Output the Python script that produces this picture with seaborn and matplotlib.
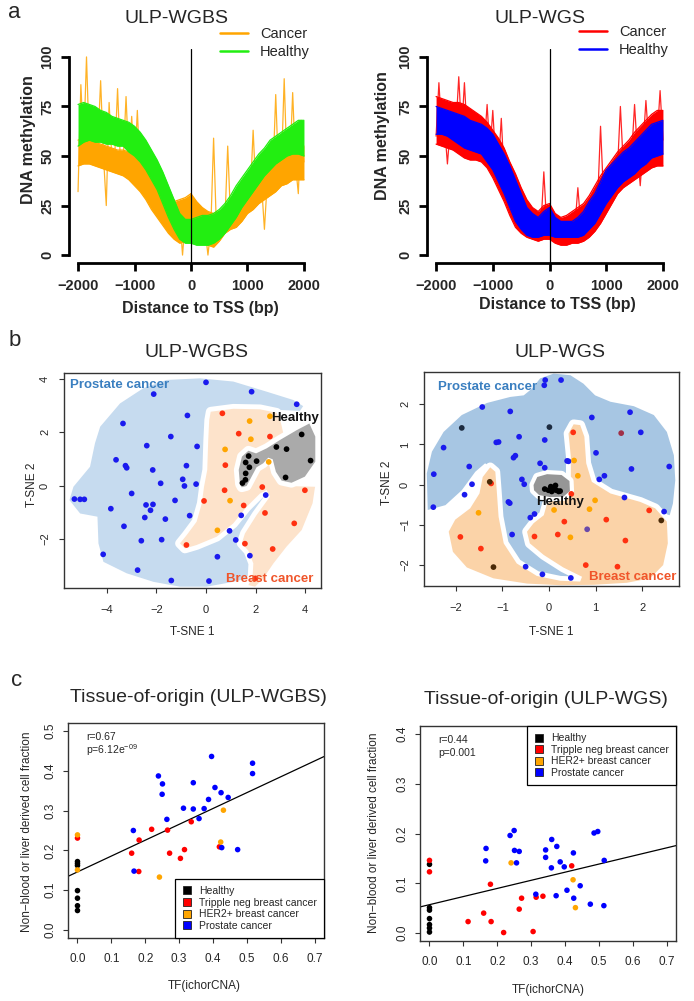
import numpy as np
import pandas as pd
import matplotlib
matplotlib.use("Agg")
import matplotlib.pyplot as plt
from matplotlib.lines import Line2D
import seaborn as sns

sns.set_style("ticks")
plt.rcParams['font.family'] = ['Liberation Sans', 'DejaVu Sans']
plt.rcParams['mathtext.fontset'] = 'custom'
plt.rcParams['mathtext.rm'] = 'Liberation Sans'
plt.rcParams['mathtext.it'] = 'Liberation Sans:italic'
plt.rcParams['mathtext.bf'] = 'Liberation Sans:bold'
plt.rcParams['axes.unicode_minus'] = True

# ------------------------------------------------------------------ data (a)
tss = list(range(-2000, 2001, 100))
tss_fine = list(range(-2000, 2001, 50))

wgbs_cancer_lo = [45,46,46,45,44,43,42,41,40,38,35,32,28,23,19,15,11,8,6,7,8,7,6,5,4,7,11,13,14,17,21,23,26,28,30,32,35,36,38,38,38]
wgbs_cancer_hi = [58,59,58,57,56,55,54,53,53,52,50,48,45,41,36,31,26,27,28,29,31,27,24,22,21,22,23,26,30,33,35,38,40,43,46,48,50,51,53,54,55]
wgbs_cancer_spk = [32,86,55,100,54,58,52,55,88,50,25,77,48,50,84,47,48,80,46,70,43,73,40,39,37,55,33,30,28,25,
                   23,21,19,18,28,17,20,0,18,20,31,17,15,16,14,13,0,13,59,14,15,16,17,55,19,21,22,24,25,27,
                   28,30,63,32,33,35,13,37,38,40,81,41,43,89,44,45,82,46,31,68,47]
wgbs_healthy_lo = [55,57,58,57,57,56,56,55,55,52,50,47,43,38,33,26,19,13,8,6,6,5,5,5,6,8,11,15,19,24,28,32,36,40,43,46,48,50,51,51,50]
wgbs_healthy_hi = [76,77,76,75,73,72,70,69,68,67,65,62,58,53,48,42,35,28,21,18,18,19,20,20,21,23,26,30,35,39,43,47,51,54,58,60,62,64,66,68,68]

wgs_cancer_lo = [56,55,54,53,51,49,48,48,47,44,39,33,27,20,14,11,9,8,7,8,8,6,5,5,6,6,7,9,12,16,21,26,31,34,36,38,40,42,44,45,45]
wgs_cancer_hi = [80,79,78,77,77,76,74,72,70,67,63,59,54,47,41,34,28,24,22,25,26,21,19,20,22,24,26,30,35,40,44,48,52,55,58,62,65,68,71,73,73]
wgs_cancer_spk = [60,87,62,65,46,64,66,64,90,62,87,60,60,58,59,57,58,55,76,52,73,48,45,69,40,36,33,30,27,24,
                  21,19,17,16,15,14,14,15,42,16,17,15,14,13,12,13,12,13,14,15,34,16,17,18,20,22,25,28,65,32,
                  35,38,40,42,44,75,46,47,49,51,76,52,35,55,78,57,58,59,60,83,58]
wgs_healthy_lo = [61,61,60,58,56,54,53,52,51,47,43,37,31,24,17,13,10,9,9,10,10,9,9,9,9,9,10,13,16,21,26,30,34,37,39,41,44,46,49,50,51]
wgs_healthy_hi = [75,74,73,72,71,70,68,67,66,64,61,56,51,45,38,31,24,21,19,22,24,19,17,17,17,19,22,27,31,37,43,46,49,52,54,57,60,63,66,67,68]

# ------------------------------------------------------------------ data (b)
# ULP-WGBS t-SNE
b1_prostate_x = [0.00,1.84,-2.11,3.66,-0.75,-3.35,-1.42,-2.39,-0.36,-3.63,-3.25,-3.20,-0.79,-2.15,-0.94,-1.83,-0.87,-0.40,-3.00,-5.31,
                 -5.08,-4.91,-1.25,-2.42,-2.14,-3.84,-2.24,-2.47,-0.66,-1.64,2.41,1.42,-3.31,0.95,-2.61,-1.79,1.20,-4.15,0.46,1.77,
                 -2.76,-1.40,0.12]
b1_prostate_y = [3.87,3.52,3.43,3.05,2.63,2.33,1.84,1.50,1.47,0.97,0.75,0.67,0.75,0.59,0.24,0.09,-0.01,0.06,-0.29,-0.50,
                 -0.51,-0.51,-0.55,-0.72,-0.70,-0.86,-0.92,-1.19,-1.12,-1.25,-0.35,-1.11,-1.52,-1.69,-2.06,-2.02,-2.03,-2.57,-2.66,-2.62,
                 -3.16,-3.55,-3.57]
b1_her2_x = [1.76,2.58,0.77,1.81,2.53,0.97,0.46]
b1_her2_y = [2.42,2.60,1.36,1.74,0.89,-0.56,-1.67]
b1_tnbc_x = [0.66,1.32,2.58,0.78,0.75,-0.08,1.52,2.27,3.99,2.38,3.56,-0.79,1.57,2.69,1.99]
b1_tnbc_y = [2.71,1.95,1.84,0.77,-0.17,-0.57,-0.74,-0.05,-0.17,-1.02,-1.41,-2.22,-2.17,-2.37,-3.47]
b1_healthy_x = [1.72,1.60,1.75,1.60,1.59,1.47,2.04,2.84,3.25,3.86,4.22,3.21]
b1_healthy_y = [1.11,0.87,0.69,0.46,0.22,0.10,0.92,1.45,1.37,1.92,0.94,0.31]

b1_blue_x = [-4.27,-3.47,-2.53,-1.59,-0.24,1.10,2.45,3.52,3.92,3.79,2.45,1.10,0.56,0.83,1.91,2.45,2.65,2.45,2.04,1.84,
             2.04,1.91,1.10,0.03,-1.05,-2.12,-3.20,-4.14,-4.34,-4.38,-5.08,-5.51,-5.35,-4.68,-4.48]
b1_blue_y = [2.21,3.08,3.65,3.96,4.02,3.90,3.52,3.21,2.98,2.80,2.86,2.98,2.58,0.59,-0.04,-0.10,-0.29,-0.66,-1.41,-2.16,
             -2.91,-3.41,-3.60,-3.78,-3.78,-3.60,-3.28,-2.85,-2.16,-1.16,-1.04,-0.54,-0.04,0.71,1.59]
b1_orange_x = [0.19,1.10,2.18,2.85,3.01,3.12,3.79,4.26,4.26,3.79,3.39,3.19,4.40,4.30,3.86,3.25,2.72,2.31,1.98,1.71,
               1.88,1.91,1.71,1.44,1.57,2.04,2.58,2.45,2.18,1.64,1.10,0.43,-0.38,-0.85,-1.05,-0.78,-0.38,-0.17,-0.08,0.05,
               0.09,0.13]
b1_orange_y = [2.77,2.88,2.86,2.73,2.40,1.96,1.84,1.71,0.96,0.59,0.19,-0.01,-0.04,-0.66,-1.66,-2.28,-2.91,-3.47,-3.78,-3.72,
               -3.41,-2.91,-2.43,-2.16,-1.79,-1.10,-0.41,-0.16,-0.29,-0.79,-1.41,-1.91,-2.22,-2.35,-2.16,-1.85,-1.35,-0.66,-0.04,0.59,
               1.71,2.46]
b1_gray_x = [1.37,1.32,1.45,1.71,2.02,2.45,2.98,3.66,4.17,4.41,4.41,3.99,3.45,3.05,2.82,2.69,2.51,2.31,2.04,1.80,1.64,1.44]
b1_gray_y = [0.06,0.59,1.09,1.31,1.21,1.40,1.71,2.08,2.33,1.84,0.90,0.34,0.11,0.19,0.52,0.99,1.05,0.84,0.69,0.27,-0.01,-0.06]

# ULP-WGS t-SNE
b2_prostate_x = [-0.08,-0.10,0.26,-1.43,-0.83,0.92,1.74,1.97,-2.26,-1.13,-1.08,-0.64,-0.09,1.01,0.39,0.42,-0.19,-0.09,-0.72,-0.76,
                 -1.71,-2.47,1.77,2.58,1.19,1.08,-0.58,-0.53,-1.65,-1.81,-0.87,-0.84,1.62,-2.48,-0.31,-0.40,-0.79,2.47,-0.50,-0.14,
                 0.47]
b2_prostate_y = [2.60,2.47,2.60,1.93,1.82,1.67,1.80,1.30,0.92,1.05,1.06,1.19,1.11,0.79,0.59,0.58,0.53,0.42,0.72,0.67,
                 0.45,0.26,0.39,0.45,0.22,0.13,0.13,0.01,0.01,-0.25,-0.43,-0.46,-0.32,-0.56,-0.73,-0.82,-1.24,-0.67,-2.04,-2.23,
                 -2.32]
b2_healthy_x = [-0.09,0.04,0.10,0.14,0.16,0.21,0.06,0.24,-0.01,0.11]
b2_healthy_y = [-0.11,-0.05,-0.08,-0.02,-0.14,-0.17,-0.17,-0.16,-0.14,-0.12]
b2_her2_x = [0.54,0.62,-1.51,0.99,0.11,0.87,0.46]
b2_her2_y = [0.60,0.22,-0.70,-0.39,-0.63,-0.61,-1.31]
b2_tnbc_x = [0.52,-1.24,0.48,2.15,0.33,1.23,-0.31,0.19,-1.90,-1.46,1.64,0.79,1.47]
b2_tnbc_y = [1.30,0.03,-0.23,-0.64,-0.92,-0.87,-1.29,-1.24,-1.30,-1.59,-1.39,-2.00,-2.04]
b2_mixed_x = [-1.87,0.01,-1.27,-1.19,2.41,0.82,1.55]
b2_mixed_y = [1.41,1.43,0.07,-2.05,-0.89,-1.11,1.28]
b2_mixed_g = ['Healthy/Prostate','Healthy/Prostate','Healthy/Breast','Healthy/Breast','Healthy/Breast',
              'Breast/Prostate','Prostate/Breast']

b2_blue_x = [-2.60,-2.62,-2.51,-2.26,-1.87,-1.33,-0.83,-0.54,-0.36,-0.19,0.10,0.46,0.74,0.99,1.32,1.82,2.25,2.53,2.68,2.71,
             2.66,2.59,2.32,1.39,0.67,0.24,0.03,0.53,0.73,0.31,-0.33,-0.83,-1.06,-1.12,-1.20,-1.37,-1.58,-1.87,-2.22]
b2_blue_y = [-0.63,0.28,0.82,1.31,1.73,2.03,2.18,2.22,2.39,2.64,2.76,2.72,2.51,2.22,2.06,1.95,1.73,1.31,0.73,0.11,
             -0.47,-0.76,-0.67,-0.43,-0.30,-0.80,-1.63,-2.29,-2.39,-2.47,-2.33,-1.96,-1.21,-0.14,0.40,0.53,0.32,-0.14,-0.51]
b2_orange_x = [-1.26,-1.15,-1.12,-1.08,-0.97,-0.69,-0.26,0.24,0.67,0.71,0.31,-0.11,-0.41,-0.47,-0.33,-0.11,-0.04,0.24,0.47,0.47,
               0.42,0.53,0.67,0.76,0.80,0.92,1.32,1.96,2.28,2.53,2.55,2.45,2.17,1.67,0.96,0.24,-0.47,-1.19,-1.76,-2.06,
               -2.15,-2.01,-1.69,-1.49,-1.42]
b2_orange_y = [0.43,0.32,-0.14,-0.80,-1.46,-1.96,-2.27,-2.39,-2.41,-2.29,-2.06,-1.75,-1.46,-1.17,-0.96,-0.76,-0.47,-0.30,0.19,0.69,
               1.27,1.50,1.48,1.19,0.53,0.07,-0.22,-0.43,-0.59,-0.92,-1.46,-2.00,-2.33,-2.44,-2.49,-2.50,-2.46,-2.33,-2.06,-1.67,
               -1.17,-0.87,-0.59,-0.22,0.19]
b2_gray_x = [-0.33,-0.25,-0.04,0.27,0.44,0.45,0.31,0.03,-0.21,-0.32]
b2_gray_y = [-0.01,0.19,0.26,0.24,0.09,-0.16,-0.30,-0.31,-0.26,-0.14]

# ------------------------------------------------------------------ data (c)
c1_healthy_tf = [0.0,0.0,0.0,0.0,0.0,0.0,0.0]
c1_healthy_fr = [0.172,0.167,0.162,0.099,0.080,0.061,0.049]
c1_tnbc_tf = [0.0,0.160,0.182,0.181,0.219,0.266,0.272,0.304,0.316,0.336,0.419]
c1_tnbc_fr = [0.231,0.193,0.226,0.147,0.253,0.251,0.193,0.180,0.202,0.272,0.209]
c1_her2_tf = [0.0,0.0,0.242,0.431,0.423]
c1_her2_fr = [0.239,0.151,0.133,0.301,0.221]
c1_prostate_tf = [0.165,0.167,0.239,0.251,0.250,0.264,0.313,0.342,0.342,0.359,0.374,0.387,0.396,0.406,0.424,0.445,0.426,0.473,0.517,0.517]
c1_prostate_fr = [0.250,0.148,0.387,0.367,0.341,0.278,0.306,0.370,0.304,0.280,0.305,0.328,0.436,0.358,0.345,0.333,0.207,0.202,0.419,0.393]
c1_fit = (0.146, 0.398)   # intercept, slope
c1_stats = ["r=0.67", r"p=6.12e$^{-09}$"]

c2_healthy_tf = [0.0,0.0,0.0,0.0,0.0,0.0,0.0]
c2_healthy_fr = [0.138,0.051,0.046,0.029,0.017,0.010,0.002]
c2_tnbc_tf = [0.0,0.0,0.114,0.160,0.180,0.182,0.219,0.265,0.272,0.306,0.315,0.335,0.420]
c2_tnbc_fr = [0.146,0.123,0.023,0.040,0.098,0.023,0.001,0.048,0.070,0.003,0.072,0.074,0.135]
c2_her2_tf = [0.241,0.424,0.431]
c2_her2_fr = [0.141,0.107,0.051]
c2_prostate_tf = [0.167,0.166,0.238,0.250,0.251,0.257,0.265,0.343,0.343,0.361,0.360,0.376,0.386,0.398,0.425,
                  0.314,0.374,0.406,0.426,0.445,0.475,0.486,0.497,0.516,0.515]
c2_prostate_fr = [0.170,0.145,0.196,0.206,0.166,0.141,0.164,0.167,0.152,0.188,0.131,0.174,0.143,0.133,0.161,
                  0.078,0.075,0.086,0.070,0.095,0.058,0.201,0.204,0.146,0.055]
c2_fit = (0.057, 0.163)
c2_stats = ["r=0.44", "p=0.001"]

legend_labels = ['Healthy', 'Tripple neg breast cancer', 'HER2+ breast cancer', 'Prostate cancer']

# ------------------------------------------------------------------ figure
W, H = 694, 1001
fig = plt.figure(figsize=(W / 100, H / 100), dpi=100)


def rect(x0, y0, x1, y1):
    return [x0 / W, 1 - y1 / H, (x1 - x0) / W, (y1 - y0) / H]


def ftext(x, y, s, **kw):
    kw.setdefault('ha', 'center')
    kw.setdefault('va', 'center')
    fig.text(x / W, 1 - y / H, s, **kw)


# ---------------- panel a
def methyl(ax, c_lo, c_hi, c_spk, h_lo, h_hi, c_col, h_col):
    ax.fill_between(tss, c_lo, c_hi, color=c_col, lw=0, zorder=1)
    sns.lineplot(x=tss, y=c_lo, ax=ax, color=c_col, lw=0.9, zorder=1)
    sns.lineplot(x=tss, y=c_hi, ax=ax, color=c_col, lw=0.9, zorder=1)
    sns.lineplot(x=tss_fine, y=c_spk, ax=ax, color=c_col, lw=0.9, alpha=0.85, zorder=2)
    ax.fill_between(tss, h_lo, h_hi, color=h_col, lw=0, zorder=3)
    sns.lineplot(x=tss, y=h_lo, ax=ax, color=h_col, lw=0.9, zorder=3)
    sns.lineplot(x=tss, y=h_hi, ax=ax, color=h_col, lw=0.9, zorder=3)
    ax.axvline(0, color='black', lw=0.9, zorder=5)
    ax.set_xlim(-2160, 2160)
    ax.set_ylim(-4, 104)
    sns.despine(ax=ax)
    ax.spines['left'].set_bounds(0, 100)
    ax.spines['bottom'].set_bounds(-2000, 2000)
    for s in ('left', 'bottom'):
        ax.spines[s].set_linewidth(2.0)
        ax.spines[s].set_color('black')
    ax.set_xticks([-2000, -1000, 0, 1000, 2000])
    ax.set_yticks([0, 25, 50, 75, 100])
    ax.tick_params(length=5.5, width=2.0, labelsize=10.5, pad=6, color='black')
    ax.tick_params(axis='y', labelrotation=90, pad=5)
    for lab in ax.get_xticklabels() + ax.get_yticklabels():
        lab.set_fontweight('bold')
    for lab in ax.get_yticklabels():
        lab.set_verticalalignment('center')
    ax.set_xlabel('')
    ax.set_ylabel('')
    ax.set_facecolor('none')


axA1 = fig.add_axes(rect(69, 49, 313, 263))
methyl(axA1, wgbs_cancer_lo, wgbs_cancer_hi, wgbs_cancer_spk, wgbs_healthy_lo, wgbs_healthy_hi,
       '#ffa500', '#22ee11')
axA2 = fig.add_axes(rect(427, 49, 672, 263))
methyl(axA2, wgs_cancer_lo, wgs_cancer_hi, wgs_cancer_spk, wgs_healthy_lo, wgs_healthy_hi,
       '#ff0000', '#0000ff')

for (lx, ly, cc, hc) in [(220, 43, '#ffa500', '#22ee11'), (579, 41, '#ff0000', '#0000ff')]:
    hnd = [Line2D([], [], color=cc, lw=1.8), Line2D([], [], color=hc, lw=1.8)]
    fig.legend(hnd, ['Cancer', 'Healthy'], loc='center left', bbox_to_anchor=(lx / W, 1 - ly / H),
               frameon=False, fontsize=10.5, handlelength=1.95, handletextpad=0.8,
               labelspacing=0.25, borderpad=0, borderaxespad=0)

ftext(176, 18, 'ULP-WGBS', fontsize=14)
ftext(540, 18, 'ULP-WGS', fontsize=14)
ftext(28, 140, 'DNA methylation', rotation=90, fontsize=11.5, fontweight='bold')
ftext(382, 136, 'DNA methylation', rotation=90, fontsize=11.5, fontweight='bold')
ftext(200, 308, 'Distance to TSS (bp)', fontsize=11.5, fontweight='bold')
ftext(557, 305, 'Distance to TSS (bp)', fontsize=11.5, fontweight='bold')
ftext(14, 12, 'a', fontsize=16)


# ---------------- panel b
def boxed(ax, fs=8, xpad=8.5, ypad=6.5):
    for s in ax.spines.values():
        s.set_visible(True)
        s.set_linewidth(1.0)
        s.set_color('#333333')
    ax.tick_params(axis='both', direction='out', length=3.6, width=0.8, color='#333333',
                   labelsize=fs, left=True, bottom=True)
    ax.tick_params(axis='x', pad=xpad)
    ax.tick_params(axis='y', pad=ypad, labelrotation=90)
    for lab in ax.get_yticklabels():
        lab.set_verticalalignment('center')
    ax.set_xlabel('')
    ax.set_ylabel('')


def region(ax, xs, ys, fc, z, halo):
    if halo:
        ax.fill(xs, ys, facecolor=fc, edgecolor='white', lw=halo, zorder=z, joinstyle='round')
    ax.fill(xs, ys, facecolor=fc, edgecolor='none', zorder=z)


pt_pal = {'Prostate': '#1a1aee', 'HER2': '#ffa500', 'TNBC': '#ff3010', 'Healthy': '#000000',
          'Healthy/Prostate': '#1c2b40', 'Healthy/Breast': '#4a2a08',
          'Breast/Prostate': '#6a4aaa', 'Prostate/Breast': '#a03048'}


def pts_frame(groups):
    rows = []
    for name, xs, ys in groups:
        if isinstance(name, list):
            rows += [(x, y, g) for x, y, g in zip(xs, ys, name)]
        else:
            rows += [(x, y, name) for x, y in zip(xs, ys)]
    return pd.DataFrame(rows, columns=['x', 'y', 'g'])


axB1 = fig.add_axes(rect(64, 373, 321, 588))
region(axB1, b1_blue_x, b1_blue_y, '#c6dbef', 1, 0)
region(axB1, b1_orange_x, b1_orange_y, '#fde3cb', 2, 7)
region(axB1, b1_gray_x, b1_gray_y, '#aaaaaa', 3, 7)
df_b1 = pts_frame([('Prostate', b1_prostate_x, b1_prostate_y), ('HER2', b1_her2_x, b1_her2_y),
                   ('TNBC', b1_tnbc_x, b1_tnbc_y), ('Healthy', b1_healthy_x, b1_healthy_y)])
sns.scatterplot(data=df_b1, x='x', y='y', hue='g', palette=pt_pal, s=17, linewidth=0,
                legend=False, ax=axB1, zorder=4)
axB1.text(-5.48, 3.77, 'Prostate cancer', color='#3a7fc0', fontsize=9.5, fontweight='bold', va='center', zorder=5)
axB1.text(2.61, 2.52, 'Healthy', color='#111111', fontsize=9.5, fontweight='bold', va='center', zorder=5)
axB1.text(0.81, -3.50, 'Breast cancer', color='#f0552a', fontsize=9.5, fontweight='bold', va='center', zorder=5)
axB1.set_xlim(-5.73, 4.64)
axB1.set_ylim(-3.83, 4.22)
axB1.set_xticks([-4, -2, 0, 2, 4])
axB1.set_yticks([-2, 0, 2, 4])
boxed(axB1)

axB2 = fig.add_axes(rect(424, 372, 679, 586))
region(axB2, b2_blue_x, b2_blue_y, '#a7c6e3', 1, 0)
region(axB2, b2_orange_x, b2_orange_y, '#fbd3a8', 2, 7)
region(axB2, b2_gray_x, b2_gray_y, '#969696', 3, 6)
df_b2 = pts_frame([('Prostate', b2_prostate_x, b2_prostate_y), ('HER2', b2_her2_x, b2_her2_y),
                   ('TNBC', b2_tnbc_x, b2_tnbc_y), ('Healthy', b2_healthy_x, b2_healthy_y),
                   (b2_mixed_g, b2_mixed_x, b2_mixed_y)])
sns.scatterplot(data=df_b2, x='x', y='y', hue='g', palette=pt_pal, s=17, linewidth=0,
                legend=False, ax=axB2, zorder=4)
axB2.text(-2.39, 2.43, 'Prostate cancer', color='#3a7fc0', fontsize=9.5, fontweight='bold', va='center', zorder=5)
axB2.text(-0.27, -0.43, 'Healthy', color='#111111', fontsize=9.5, fontweight='bold', va='center', zorder=5)
axB2.text(0.87, -2.29, 'Breast cancer', color='#f0552a', fontsize=9.5, fontweight='bold', va='center', zorder=5)
axB2.set_xlim(-2.68, 2.79)
axB2.set_ylim(-2.52, 2.80)
axB2.set_xticks([-2, -1, 0, 1, 2])
axB2.set_yticks([-2, -1, 0, 1, 2])
boxed(axB2)

ftext(197, 353, 'ULP-WGBS', fontsize=14)
ftext(560, 353, 'ULP-WGS', fontsize=14)
ftext(192, 632, 'T-SNE 1', fontsize=8.5)
ftext(551, 632, 'T-SNE 1', fontsize=8.5)
ftext(32, 485, 'T-SNE 2', fontsize=8.5, rotation=90)
ftext(387, 483, 'T-SNE 2', fontsize=8.5, rotation=90)
ftext(15, 341, 'b', fontsize=16)

# ---------------- panel c
c_pal = {'Healthy': '#000000', 'TNBC': '#ff0000', 'HER2': '#ffa500', 'Prostate': '#0000ff'}
leg_cols = ['#000000', '#ff0000', '#ffa500', '#0000ff']


def tissue(ax, groups, fit, stats, ymax, yticks, legloc):
    df = pts_frame(groups)
    sns.scatterplot(data=df, x='x', y='y', hue='g', palette=c_pal, s=16, linewidth=0,
                    legend=False, ax=ax, zorder=3)
    ax.axline((0, fit[0]), slope=fit[1], color='black', lw=0.9, zorder=2)
    ax.set_xlim(-0.028, 0.728)
    ax.set_ylim(-0.04 * ymax, ymax * 1.04)
    ax.set_xticks([0, 0.1, 0.2, 0.3, 0.4, 0.5, 0.6, 0.7])
    ax.set_xticklabels(['0.0', '0.1', '0.2', '0.3', '0.4', '0.5', '0.6', '0.7'])
    ax.set_yticks(yticks)
    ax.set_yticklabels(['%.1f' % v for v in yticks])
    boxed(ax, fs=8.5, xpad=7.5, ypad=5)
    ax.text(0.025, ymax * 0.97, stats[0], fontsize=7.5, va='center', zorder=5)
    ax.text(0.025, ymax * 0.905, stats[1], fontsize=7.5, va='center', zorder=5)
    hnd = [Line2D([], [], marker='s', ls='', mfc=c, mec='#222222', mew=0.6, ms=5.5) for c in leg_cols]
    leg = ax.legend(hnd, legend_labels, loc=legloc, fontsize=7.5, frameon=True, fancybox=False,
                    edgecolor='black', framealpha=1, borderaxespad=0, handlelength=0.8,
                    handletextpad=0.75, labelspacing=0.15, borderpad=0.7)
    leg.get_frame().set_linewidth(0.9)
    leg.set_zorder(6)


axC1 = fig.add_axes(rect(68, 723, 324, 938))
tissue(axC1, [('Healthy', c1_healthy_tf, c1_healthy_fr), ('TNBC', c1_tnbc_tf, c1_tnbc_fr),
              ('HER2', c1_her2_tf, c1_her2_fr), ('Prostate', c1_prostate_tf, c1_prostate_fr)],
       c1_fit, c1_stats, 0.5, [0, 0.1, 0.2, 0.3, 0.4, 0.5], 'lower right')
axC2 = fig.add_axes(rect(420, 726, 676, 941))
tissue(axC2, [('Healthy', c2_healthy_tf, c2_healthy_fr), ('TNBC', c2_tnbc_tf, c2_tnbc_fr),
              ('HER2', c2_her2_tf, c2_her2_fr), ('Prostate', c2_prostate_tf, c2_prostate_fr)],
       c2_fit, c2_stats, 0.4, [0, 0.1, 0.2, 0.3, 0.4], 'upper right')

ftext(198, 698, 'Tissue-of-origin (ULP-WGBS)', fontsize=14)
ftext(546, 700, 'Tissue-of-origin (ULP-WGS)', fontsize=14)
ftext(204, 986, 'TF(ichorCNA)', fontsize=8.5)
ftext(548, 990, 'TF(ichorCNA)', fontsize=8.5)
ftext(27, 832, 'Non\u2212blood or liver derived cell fraction', fontsize=8.5, rotation=90)
ftext(374, 833, 'Non\u2212blood or liver derived cell fraction', fontsize=8.5, rotation=90)
ftext(17, 681, 'c', fontsize=16)

fig.savefig('out.png', dpi=100)
